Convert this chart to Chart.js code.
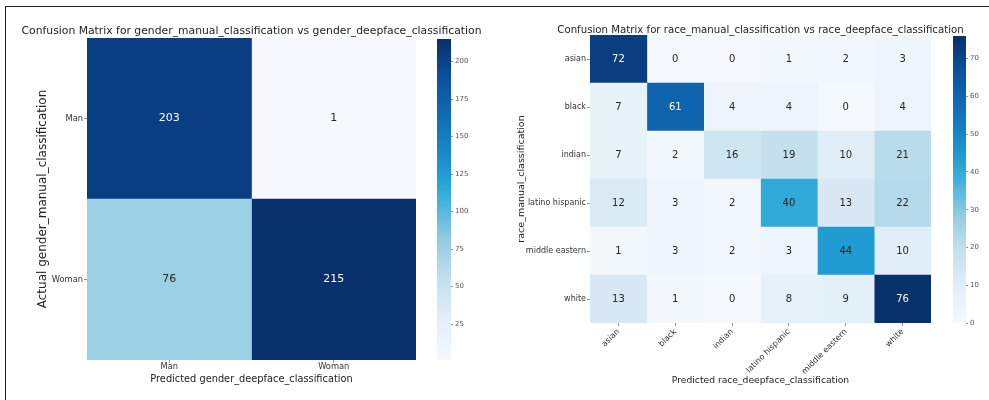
<!DOCTYPE html>
<html>
<head>
<meta charset="utf-8">
<title>Confusion matrices</title>
<script src="https://cdn.jsdelivr.net/npm/chart.js@4.4.1/dist/chart.umd.min.js"></script>
<style>
  html, body { margin: 0; padding: 0; background: #fff; overflow: hidden; }
  body { width: 989px; height: 400px; position: relative; }
  .frame { position: absolute; left: 5px; top: 6px; right: -2px; bottom: -2px; z-index: 2;
           border-top: 1.5px solid #222; border-left: 1.5px solid #222; }
  canvas { position: absolute; top: 0; }
</style>
</head>
<body>
<div class="frame"></div>
<canvas id="genderChart" width="503" height="400" style="left:0"></canvas>
<canvas id="genderBar" width="50" height="400" style="left:430px"></canvas>
<canvas id="raceChart" width="501" height="400" style="left:510px"></canvas>
<canvas id="raceBar" width="43" height="400" style="left:946px"></canvas>
<script>
// gender: rows = manual label, columns = deepface prediction
const genderLabels = ['Man', 'Woman'];
const genderMatrix = [
    [203, 1],
    [76, 215]
];
const genderBarTicks = [25, 50, 75, 100, 125, 150, 175, 200];

// race: rows = manual label, columns = deepface prediction
const raceLabels = ['asian', 'black', 'indian', 'latino hispanic', 'middle eastern', 'white'];
const raceMatrix = [
    [72, 0, 0, 1, 2, 3],
    [7, 61, 4, 4, 0, 4],
    [7, 2, 16, 19, 10, 21],
    [12, 3, 2, 40, 13, 22],
    [1, 3, 2, 3, 44, 10],
    [13, 1, 0, 8, 9, 76]
];
const raceBarTicks = [0, 10, 20, 30, 40, 50, 60, 70];

const FONT = '"DejaVu Sans", sans-serif';

// colour ramp, light -> dark
const rampStops = [
    [0.0, '#f5f9fd'],
    [0.125, '#e3eff8'],
    [0.25, '#c4e0ef'],
    [0.375, '#92cce3'],
    [0.5, '#3fb0dc'],
    [0.56, '#22a2d6'],
    [0.625, '#1a8fcc'],
    [0.75, '#0f6fb6'],
    [0.875, '#0b529e'],
    [1.0, '#08306b']
];

function hexToRgb(h) {
    return [1, 3, 5].map(i => parseInt(h.slice(i, i + 2), 16));
}

function rampColor(t) {
    t = Math.max(0, Math.min(1, t));
    for (let k = 1; k < rampStops.length; k++) {
        if (t <= rampStops[k][0]) {
            const [t0, c0] = rampStops[k - 1];
            const [t1, c1] = rampStops[k];
            const f = (t - t0) / (t1 - t0);
            const a = hexToRgb(c0), b = hexToRgb(c1);
            const rgb = a.map((v, i) => Math.round(v + (b[i] - v) * f));
            return `rgb(${rgb.join(',')})`;
        }
    }
    return rampStops[rampStops.length - 1][1];
}

// writes the count in the middle of every cell
function cellLabels(matrix, vmin, vmax, size) {
    return {
        id: 'cellLabels',
        afterDatasetsDraw(chart) {
            const ctx = chart.ctx;
            ctx.save();
            ctx.font = `${size}px ${FONT}`;
            ctx.textAlign = 'center';
            ctx.textBaseline = 'middle';
            chart.data.datasets.forEach((ds, j) => {
                chart.getDatasetMeta(j).data.forEach((bar, i) => {
                    const v = matrix[i][j];
                    const t = (v - vmin) / (vmax - vmin);
                    ctx.fillStyle = t > 0.7 ? '#ffffff' : '#262626';
                    ctx.fillText(String(v), (bar.x + bar.base) / 2, bar.y);
                });
            });
            ctx.restore();
        }
    };
}

// title centred over the cells (it is wider than the plot, so no maxWidth)
function plotTitle(text, size, y) {
    return {
        id: 'plotTitle',
        afterDraw(chart) {
            const { ctx, chartArea } = chart;
            ctx.save();
            ctx.font = `${size}px ${FONT}`;
            ctx.fillStyle = '#222';
            ctx.textAlign = 'center';
            ctx.textBaseline = 'middle';
            ctx.fillText(text, (chartArea.left + chartArea.right) / 2, y);
            ctx.restore();
        }
    };
}

// heatmap = horizontal stacked bars, one dataset per predicted column
function heatmap(id, cfg) {
    const labels = cfg.labels;
    const flat = cfg.matrix.flat();
    const vmin = Math.min(...flat), vmax = Math.max(...flat);
    const datasets = labels.map((c, j) => ({
        label: c,
        data: labels.map(() => 1),
        backgroundColor: labels.map((r, i) => rampColor((cfg.matrix[i][j] - vmin) / (vmax - vmin))),
        borderWidth: 0,
        barPercentage: 1,
        categoryPercentage: 1
    }));
    const tickGrid = { display: true, drawOnChartArea: false, drawTicks: true, tickLength: 3, color: '#777', lineWidth: 0.8, offset: false };

    return new Chart(document.getElementById(id), {
        type: 'bar',
        data: { labels: labels, datasets: datasets },
        options: {
            indexAxis: 'y',
            responsive: false,
            animation: false,
            layout: { padding: { left: 0, right: cfg.padRight, top: cfg.top, bottom: 0 } },
            plugins: {
                legend: { display: false },
                tooltip: { enabled: false },
                title: { display: false }
            },
            scales: {
                x: {
                    type: 'linear',
                    stacked: true,
                    min: 0,
                    max: labels.length,
                    grid: tickGrid,
                    border: { display: false },
                    afterBuildTicks: axis => { axis.ticks = labels.map((l, j) => ({ value: j + 0.5 })); },
                    afterFit: axis => { axis.height = cfg.xHeight; },
                    ticks: {
                        autoSkip: false,
                        minRotation: cfg.xRotation,
                        maxRotation: cfg.xRotation,
                        padding: cfg.xTickPad,
                        color: '#333',
                        font: { family: FONT, size: cfg.tickSize },
                        callback: (v, i) => labels[i]
                    },
                    title: {
                        display: true,
                        text: cfg.xTitle,
                        color: '#222',
                        font: { family: FONT, size: cfg.xTitleSize },
                        padding: { top: 0, bottom: cfg.xTitlePad }
                    }
                },
                y: {
                    type: 'category',
                    stacked: true,
                    grid: tickGrid,
                    border: { display: false },
                    afterFit: axis => { axis.width = cfg.yWidth; },
                    ticks: {
                        padding: 1,
                        color: '#333',
                        font: { family: FONT, size: cfg.tickSize }
                    },
                    title: {
                        display: true,
                        text: cfg.yTitle,
                        color: '#222',
                        font: { family: FONT, size: cfg.yTitleSize },
                        padding: { top: cfg.yTitlePad, bottom: 0 }
                    }
                }
            }
        },
        plugins: [
            cellLabels(cfg.matrix, vmin, vmax, cfg.cellSize),
            plotTitle(cfg.title, cfg.titleSize, cfg.titleY)
        ]
    });
}

// colour bar = one floating bar filled with the ramp, axis on the right
function colorBar(id, matrix, tickValues, cfg) {
    const flat = matrix.flat();
    const vmin = Math.min(...flat), vmax = Math.max(...flat);
    return new Chart(document.getElementById(id), {
        type: 'bar',
        data: {
            labels: [''],
            datasets: [{
                data: [[vmin, vmax]],
                borderWidth: 0,
                barPercentage: 1,
                categoryPercentage: 1,
                backgroundColor: context => {
                    const area = context.chart.chartArea;
                    if (!area) return rampStops[0][1];
                    const g = context.chart.ctx.createLinearGradient(0, area.bottom, 0, area.top);
                    rampStops.forEach(([t, c]) => g.addColorStop(t, c));
                    return g;
                }
            }]
        },
        options: {
            responsive: false,
            animation: false,
            layout: { padding: cfg.padding },
            plugins: { legend: { display: false }, tooltip: { enabled: false } },
            scales: {
                x: { display: false },
                y: {
                    position: 'right',
                    min: vmin,
                    max: vmax,
                    grid: { drawOnChartArea: false, drawTicks: true, tickLength: 2, color: '#777', lineWidth: 0.8 },
                    border: { display: false },
                    afterBuildTicks: axis => { axis.ticks = tickValues.map(v => ({ value: v })); },
                    afterFit: axis => { axis.width = cfg.axisWidth; },
                    ticks: { padding: 2, color: '#555', font: { family: FONT, size: 7 } }
                }
            }
        }
    });
}

heatmap('genderChart', {
    labels: genderLabels,
    matrix: genderMatrix,
    title: 'Confusion Matrix for gender_manual_classification vs gender_deepface_classification',
    titleSize: 10.8,
    titleY: 31,
    top: 38,
    xTitle: 'Predicted gender_deepface_classification',
    xTitleSize: 9.8,
    xTitlePad: 15,
    yTitle: 'Actual gender_manual_classification',
    yTitleSize: 12,
    yTitlePad: 36,
    tickSize: 8.3,
    xTickPad: -1,
    cellSize: 11,
    xRotation: 0,
    xHeight: 40,
    yWidth: 87,
    padRight: 87
});

heatmap('raceChart', {
    labels: raceLabels,
    matrix: raceMatrix,
    title: 'Confusion Matrix for race_manual_classification vs race_deepface_classification',
    titleSize: 10.2,
    titleY: 30,
    top: 35,
    xTitle: 'Predicted race_deepface_classification',
    xTitleSize: 9.2,
    xTitlePad: 14,
    yTitle: 'race_manual_classification',
    yTitleSize: 9.5,
    yTitlePad: 6,
    tickSize: 8,
    xTickPad: 1,
    cellSize: 10,
    xRotation: 45,
    xHeight: 77,
    yWidth: 80,
    padRight: 80
});

colorBar('genderBar', genderMatrix, genderBarTicks, {
    padding: { left: 7, top: 39, bottom: 40, right: 0 },
    axisWidth: 29
});

colorBar('raceBar', raceMatrix, raceBarTicks, {
    padding: { left: 7, top: 36, bottom: 77, right: 0 },
    axisWidth: 23
});
</script>
</body>
</html>
